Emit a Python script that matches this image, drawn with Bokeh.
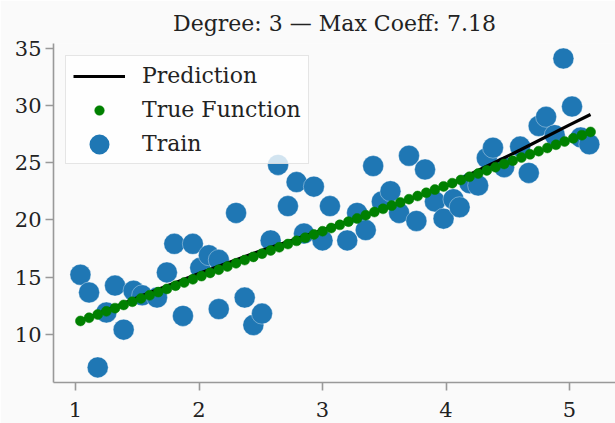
from bokeh.plotting import figure
from bokeh.models import Legend, LegendItem, FixedTicker
from bokeh.embed import file_html
from bokeh.resources import INLINE

# ---- data ----
train_x = [1.04, 1.11, 1.18, 1.25, 1.32, 1.39, 1.47, 1.54, 1.66, 1.74, 1.80, 1.87, 1.95, 2.01,
           2.08, 2.16, 2.16, 2.30, 2.37, 2.44, 2.51, 2.58, 2.64, 2.72, 2.79, 2.85, 2.93, 3.00,
           3.06, 3.20, 3.28, 3.35, 3.41, 3.48, 3.55, 3.62, 3.70, 3.76, 3.83, 3.91, 3.98, 4.06,
           4.11, 4.19, 4.26, 4.33, 4.38, 4.47, 4.60, 4.67, 4.75, 4.81, 4.88, 4.95, 5.02, 5.09, 5.16]
train_y = [15.2, 13.65, 7.1, 11.9, 14.25, 10.4, 13.8, 13.4, 13.2, 15.4, 17.9, 11.6, 17.9, 15.8,
           16.9, 16.5, 12.2, 20.6, 13.2, 10.8, 11.8, 18.2, 24.8, 21.2, 23.3, 18.8, 22.9, 18.2,
           21.2, 18.2, 20.6, 19.1, 24.7, 21.6, 22.5, 20.6, 25.6, 19.9, 24.4, 21.6, 20.1, 21.8,
           21.1, 23.2, 23.0, 25.4, 26.3, 24.6, 26.4, 24.1, 28.2, 29.0, 27.4, 34.1, 29.9, 27.2, 26.6]

true_x = [1.04, 1.11, 1.18, 1.25, 1.32, 1.39, 1.46, 1.53, 1.60, 1.67, 1.74, 1.81, 1.88, 1.95,
          2.02, 2.09, 2.16, 2.23, 2.30, 2.37, 2.44, 2.51, 2.58, 2.65, 2.72, 2.79, 2.86, 2.93,
          3.00, 3.07, 3.14, 3.21, 3.28, 3.35, 3.42, 3.49, 3.56, 3.63, 3.70, 3.77, 3.84, 3.91,
          3.98, 4.05, 4.12, 4.19, 4.26, 4.33, 4.40, 4.47, 4.54, 4.61, 4.68, 4.75, 4.82, 4.89,
          4.96, 5.03, 5.10, 5.17]
true_y = [11.16, 11.44, 11.72, 12.00, 12.28, 12.56, 12.84, 13.12, 13.40, 13.68, 13.96, 14.24,
          14.52, 14.80, 15.08, 15.36, 15.64, 15.92, 16.20, 16.48, 16.76, 17.04, 17.32, 17.60,
          17.88, 18.16, 18.44, 18.72, 19.00, 19.28, 19.56, 19.84, 20.12, 20.40, 20.68, 20.96,
          21.24, 21.52, 21.80, 22.08, 22.36, 22.64, 22.92, 23.20, 23.48, 23.76, 24.04, 24.32,
          24.60, 24.88, 25.16, 25.44, 25.72, 26.00, 26.28, 26.56, 26.84, 27.12, 27.40, 27.68]

pred_x = [1.04, 1.25, 1.5, 2.0, 2.5, 3.0, 3.5, 4.0, 4.2, 4.6, 5.0, 5.17]
pred_y = [11.2, 12.1, 13.2, 15.3, 17.3, 19.1, 21.0, 22.95, 24.0, 26.1, 28.3, 29.2]

x_ticks = [1, 2, 3, 4, 5]
y_ticks = [10, 15, 20, 25, 30, 35]

title_text = "Degree: 3 \u2014 Max Coeff: 7.18"

FONT = "DejaVu Serif"
BG = "#fafafa"
SPINE = "#999999"
TXT = "#222222"

p = figure(width=615, height=423, output_backend="svg", toolbar_location=None,
           x_range=(0.822, 5.372), y_range=(5.78, 35.41),
           min_border_left=53, min_border_right=0, min_border_top=43, min_border_bottom=41,
           background_fill_color=BG, border_fill_color=BG, title=title_text)

p.title.text_font = FONT
p.title.text_font_size = "22px"
p.title.text_font_style = "normal"
p.title.text_color = TXT
p.title.text_line_height = 1.0
p.title.align = "center"
p.title.standoff = 15

p.outline_line_color = None
p.xgrid.visible = False
p.ygrid.visible = False

for ax in (p.xaxis[0], p.yaxis[0]):
    ax.axis_line_color = SPINE
    ax.axis_line_width = 1.6
    ax.major_tick_line_color = SPINE
    ax.major_tick_line_width = 1.6
    ax.major_tick_out = 8
    ax.major_tick_in = 0
    ax.minor_tick_line_color = None
    ax.major_label_text_font = FONT
    ax.major_label_text_font_size = "21px"
    ax.major_label_text_color = TXT

p.xaxis[0].major_label_standoff = 11
p.yaxis[0].major_label_standoff = 4
p.xaxis[0].ticker = FixedTicker(ticks=x_ticks)
p.yaxis[0].ticker = FixedTicker(ticks=y_ticks)

# legend-only proxy (tiny, hidden beneath the first training point) so that the
# Train marker is drawn large in the legend
train_proxy = p.scatter(train_x[:1], train_y[:1], size=1, fill_color="#1f77b4",
                        line_color="#1f77b4", line_width=10.4)
train_r = p.scatter(train_x, train_y, size=21, fill_color="#1f77b4", line_color="white",
                    line_width=0.6, line_alpha=0.6)
pred_r = p.line(pred_x, pred_y, line_color="black", line_width=3.2)
true_r = p.scatter(true_x, true_y, size=10, fill_color="green", line_color="green", line_width=0.5)

legend = Legend(items=[
    LegendItem(label="Prediction", renderers=[pred_r]),
    LegendItem(label="True Function", renderers=[true_r]),
    LegendItem(label="Train", renderers=[train_proxy]),
], location="top_left")
legend.margin = 12
legend.padding = 7
legend.spacing = 9
legend.glyph_width = 52
legend.glyph_height = 24
legend.label_height = 24
legend.label_standoff = 17
legend.label_text_font = FONT
legend.label_text_font_size = "22px"
legend.label_text_color = TXT
legend.background_fill_color = "white"
legend.background_fill_alpha = 0.8
legend.border_line_color = "#cccccc"
legend.border_line_width = 1.6
p.add_layout(legend)

open("out.html", "w").write(file_html(p, INLINE))
